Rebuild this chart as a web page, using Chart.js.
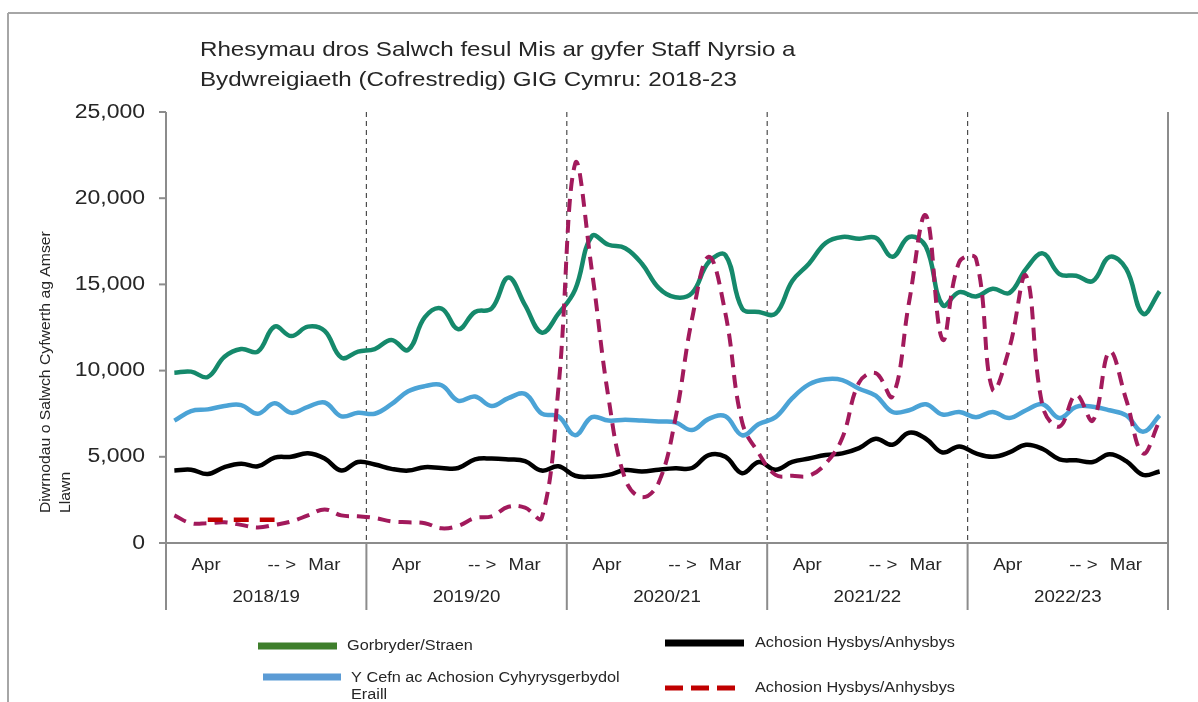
<!DOCTYPE html>
<html>
<head>
<meta charset="utf-8">
<title>Rhesymau dros Salwch</title>
<script src="https://cdn.jsdelivr.net/npm/chart.js@4.4.1/dist/chart.umd.min.js"></script>
<style>
  html, body { margin: 0; padding: 0; background: #fff; }
  #wrap { width: 1198px; height: 702px; }
</style>
</head>
<body>
<div id="wrap"><canvas id="lineChart" width="1198" height="702"></canvas></div>
<script>
// ---------- DATA ----------
const years = ['2018/19', '2019/20', '2020/21', '2021/22', '2022/23'];
const months = ['Apr', 'May', 'Jun', 'Jul', 'Aug', 'Sep', 'Oct', 'Nov', 'Dec', 'Jan', 'Feb', 'Mar'];
const yTicks = [0, 5000, 10000, 15000, 20000, 25000];

// Gorbryder/Straen
const anxietyStress = [
  9880, 9940, 9630, 10800, 11250, 11100, 12550, 12000, 12550, 12300, 10750, 11100,
  11250, 11780, 11200, 13100, 13600, 12400, 13400, 13600, 15400, 13800, 12200, 13300,
  14700, 17800, 17300, 17100, 16200, 14800, 14250, 14500, 16300, 16700, 13600, 13400,
  13300, 15200, 16200, 17400, 17750, 17650, 17700, 16600, 17750, 17200, 13800, 14550,
  14300, 14750, 14500, 15900, 16800, 15600, 15500, 15200, 16600, 15900, 13300, 14600
];

// Y Cefn ac Achosion Cyhyrysgerbydol Eraill
const backMsk = [
  7100, 7650, 7750, 7950, 8000, 7500, 8100, 7550, 7900, 8150, 7350, 7550,
  7500, 8050, 8800, 9100, 9150, 8250, 8500, 7950, 8400, 8650, 7500, 7350,
  6250, 7300, 7100, 7150, 7100, 7050, 7000, 6550, 7200, 7350, 6250, 6900,
  7300, 8400, 9200, 9500, 9450, 8950, 8550, 7600, 7700, 8050, 7450, 7600,
  7300, 7600, 7250, 7700, 8050, 7250, 7900, 7900, 7700, 7400, 6450, 7400
];

// Achosion Hysbys/Anhysbys (solid)
const knownUnknown = [
  4200, 4250, 4000, 4400, 4600, 4450, 4950, 5000, 5200, 4900, 4200, 4700,
  4550, 4300, 4200, 4400, 4350, 4350, 4850, 4900, 4850, 4750, 4200, 4450,
  3900, 3850, 3950, 4230, 4150, 4250, 4330, 4350, 5100, 5000, 4050, 4700,
  4250, 4700, 4900, 5100, 5200, 5500, 6050, 5700, 6400, 6050, 5250, 5600,
  5200, 5000, 5250, 5700, 5450, 4850, 4800, 4700, 5150, 4750, 3950, 4150
];

// Achosion Hysbys/Anhysbys (dashed)
const knownUnknownDashed = [
  1600, 1150, 1150, 1200, 1050, 900, 1050, 1250, 1600, 1950, 1600, 1550,
  1450, 1250, 1200, 1150, 850, 1000, 1450, 1550, 2100, 2050, 1450, 9000,
  22000, 15800, 8400, 3700, 2650, 3500, 7200, 13000, 16600, 13300, 7000, 5200,
  3950, 3900, 3900, 4600, 6100, 9300, 9850, 8500, 14000, 19000, 11800, 16300,
  16500, 8900, 11300, 15500, 7900, 6750, 8600, 7100, 11100, 8300, 5200, 7100
];

// stray red key segment sitting inside the plot
const strayKey = [null, null, 1350, 1350, 1350, 1350, 1350];

const labels = [];
years.forEach(y => months.forEach(m => labels.push(m + ' ' + y)));

// ---------- HELPERS ----------
const FONT = '"Liberation Sans", Arial, sans-serif';
const TEXT = '#262626';
const AXIS = '#8c8c8c';

function txt(ctx, s, x, y, size, align, sx, rot) {
  ctx.save();
  ctx.font = size + 'px ' + FONT;
  ctx.fillStyle = TEXT;
  ctx.textBaseline = 'middle';
  ctx.textAlign = align;
  ctx.translate(x, y);
  if (rot) ctx.rotate(rot);
  ctx.scale(sx || 1, 1);
  ctx.fillText(s, 0, 0);
  ctx.restore();
}

function line(ctx, x1, y1, x2, y2, color, width, dash) {
  ctx.save();
  ctx.strokeStyle = color;
  ctx.lineWidth = width;
  ctx.setLineDash(dash || []);
  ctx.beginPath();
  ctx.moveTo(x1, y1);
  ctx.lineTo(x2, y2);
  ctx.stroke();
  ctx.restore();
}

// frame, axes, year dividers (under the lines)
const framePlugin = {
  id: 'framePlugin',
  beforeDatasetsDraw(chart) {
    const ctx = chart.ctx;
    const a = chart.chartArea;
    const xs = chart.scales.x;
    const ys = chart.scales.y;
    const step = xs.getPixelForValue(1) - xs.getPixelForValue(0);
    const base = a.bottom + 67;

    // outer frame
    line(ctx, 8, 13, 1198, 13, '#a6a6a6', 2);
    line(ctx, 8, 13, 8, 702, '#a6a6a6', 2);

    for (let k = 0; k <= years.length; k++) {
      const xb = xs.getPixelForValue(k * 12) - step / 2;
      if (k > 0 && k < years.length) {
        line(ctx, xb, a.top, xb, a.bottom, '#4d4d4d', 1.2, [5, 4]);
        line(ctx, xb, a.bottom, xb, base, AXIS, 2);
      } else {
        line(ctx, xb, a.top, xb, base, AXIS, 2);
      }
    }
    line(ctx, a.left - 6, a.bottom, a.right, a.bottom, AXIS, 2);
    yTicks.forEach(v => {
      const py = ys.getPixelForValue(v);
      line(ctx, a.left - 7, py, a.left, py, AXIS, 2);
    });
  },
  afterDraw(chart) {
    const ctx = chart.ctx;
    const a = chart.chartArea;
    const xs = chart.scales.x;
    const ys = chart.scales.y;
    const step = xs.getPixelForValue(1) - xs.getPixelForValue(0);

    // title
    txt(ctx, 'Rhesymau dros Salwch fesul Mis ar gyfer Staff Nyrsio a', 200, 50, 21, 'left', 1.15);
    txt(ctx, 'Bydwreigiaeth (Cofrestredig) GIG Cymru: 2018-23', 200, 80, 21, 'left', 1.15);

    // y tick labels
    yTicks.forEach(v => {
      txt(ctx, v.toLocaleString('en-GB'), a.left - 21, ys.getPixelForValue(v), 20, 'right', 1.15);
    });

    // y axis title
    txt(ctx, 'Diwrnodau o Salwch Cyfwerth ag Amser', 46, 513, 15, 'left', 1.05, -Math.PI / 2);
    txt(ctx, 'Llawn', 66, 513, 15, 'left', 1.05, -Math.PI / 2);

    // x labels
    years.forEach((y, k) => {
      const x0 = xs.getPixelForValue(k * 12) - step / 2;
      const w = step * 12;
      txt(ctx, 'Apr', x0 + w * 0.2, a.bottom + 22, 17, 'center', 1.1);
      txt(ctx, '-- >', x0 + w * 0.578, a.bottom + 22, 17, 'center', 1.1);
      txt(ctx, 'Mar', x0 + w * 0.79, a.bottom + 22, 17, 'center', 1.1);
      txt(ctx, y, x0 + w * 0.5, a.bottom + 54, 17, 'center', 1.1);
    });

    // legend
    line(ctx, 258, 646, 337, 646, '#3f7f2c', 7);
    txt(ctx, 'Gorbryder/Straen', 347, 646, 15.5, 'left', 1.05);
    line(ctx, 263, 677, 341, 677, '#5b9bd5', 7);
    txt(ctx, 'Y Cefn ac Achosion Cyhyrysgerbydol', 351, 678, 15.5, 'left', 1.05);
    txt(ctx, 'Eraill', 351, 695, 15.5, 'left', 1.05);
    line(ctx, 665, 643, 744, 643, '#000000', 7);
    txt(ctx, 'Achosion Hysbys/Anhysbys', 755, 643, 15.5, 'left', 1.05);
    line(ctx, 665, 688, 737, 688, '#c00000', 5, [18, 8]);
    txt(ctx, 'Achosion Hysbys/Anhysbys', 755, 688, 15.5, 'left', 1.05);
  }
};

// ---------- CHART ----------
var ctxLine = document.getElementById('lineChart').getContext('2d');
var lineChart = new Chart(ctxLine, {
  type: 'line',
  data: {
    labels: labels,
    datasets: [{
      label: 'Gorbryder/Straen',
      data: anxietyStress,
      borderColor: '#15896b',
      borderWidth: 4.5,
      tension: 0.4,
      order: 4
    },
    {
      label: 'Y Cefn ac Achosion Cyhyrysgerbydol Eraill',
      data: backMsk,
      borderColor: '#4ba3d6',
      borderWidth: 4.5,
      tension: 0.4,
      order: 3
    },
    {
      label: 'Achosion Hysbys/Anhysbys',
      data: knownUnknown,
      borderColor: '#000000',
      borderWidth: 4.5,
      tension: 0.4,
      order: 2
    },
    {
      label: 'Achosion Hysbys/Anhysbys',
      data: knownUnknownDashed,
      borderColor: '#a21a5c',
      borderWidth: 4,
      borderDash: [13, 8],
      tension: 0.4,
      order: 1
    },
    {
      label: '',
      data: strayKey,
      borderColor: '#c00000',
      borderWidth: 4.5,
      borderDash: [15, 11],
      tension: 0,
      order: 0
    }]
  },
  options: {
    responsive: false,
    animation: false,
    devicePixelRatio: 1,
    layout: {
      padding: { left: 166, top: 112, right: 30, bottom: 159 }
    },
    elements: {
      point: { radius: 0, hoverRadius: 0 },
      line: { borderCapStyle: 'butt', fill: false }
    },
    plugins: {
      legend: { display: false },
      tooltip: { enabled: false },
      title: { display: false }
    },
    scales: {
      x: {
        type: 'category',
        offset: true,
        display: false
      },
      y: {
        display: false,
        min: 0,
        max: 25000,
        ticks: { stepSize: 5000 }
      }
    }
  },
  plugins: [framePlugin]
});
</script>
</body>
</html>
